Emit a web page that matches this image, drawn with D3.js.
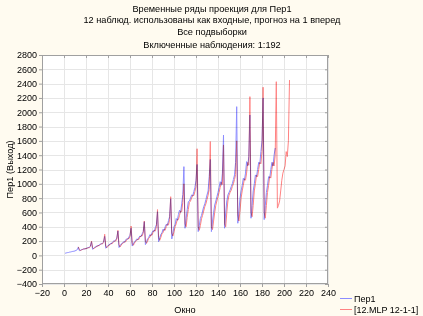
<!DOCTYPE html>
<html>
<head>
<meta charset="utf-8">
<script src="https://cdn.jsdelivr.net/npm/d3@7"></script>
<style>
  html, body { margin: 0; padding: 0; background: #fffbf0; }
  svg { display: block; }
  text { font-family: "Liberation Sans", Arial, sans-serif; fill: #000; }
</style>
</head>
<body>
<svg id="chart" width="423" height="316"></svg>
<script>
const titleLines = [
  "Временные ряды проекция для Пер1",
  "12 наблюд. использованы как входные, прогноз на 1 вперед",
  "Все подвыборки",
  "Включенные наблюдения: 1:192"
];
const xLabel = "Окно";
const yLabel = "Пер1 (Выход)";
const seriesNames = ["Пер1", "[12.MLP 12-1-1]"];
const xTicks = [-20, 0, 20, 40, 60, 80, 100, 120, 140, 160, 180, 200, 220, 240];
const yTicks = [-400, -200, 0, 200, 400, 600, 800, 1000, 1200, 1400, 1600, 1800, 2000, 2200, 2400, 2600, 2800];

const observedStart = 1;
const observed = [
  30, 34, 38, 40, 45, 48, 52, 56, 58, 62, 70, 78,
  114, 65, 72, 80, 84, 92, 88, 98, 105, 102, 118, 130,
  190, 85, 100, 115, 120, 135, 130, 148, 160, 155, 175, 190,
  265, 100, 120, 140, 145, 165, 160, 185, 200, 195, 222, 240,
  340, 110, 135, 160, 168, 190, 182, 215, 232, 225, 258, 280,
  380, 130, 160, 190, 200, 228, 218, 250, 270, 262, 300, 330,
  470, 150, 192, 234, 248, 290, 276, 318, 346, 332, 388, 430,
  610, 190, 242, 295, 312, 365, 348, 400, 435, 418, 488, 540,
  790, 230, 315, 400, 430, 515, 490, 570, 630, 600, 720, 850,
  1240, 379, 520, 640, 750, 760, 800, 844, 830, 890, 950, 1050,
  1270, 332, 420, 518, 560, 620, 680, 720, 780, 844, 900, 1100,
  1340, 332, 480, 600, 705, 760, 820, 880, 950, 1030, 980, 1150,
  1682, 379, 600, 760, 844, 880, 914, 960, 1000, 1060, 1124, 1300,
  2078, 449, 620, 800, 900, 980, 1077, 1050, 1150, 1310, 1250, 1380,
  1962, 519, 700, 900, 1000, 1124, 1100, 1200, 1300, 1280, 1450, 1600,
  2200, 500, 700, 880, 980, 1100, 1080, 1200, 1300, 1250, 1400, 1500
];

const predictedStart = 13;
const predicted = [
  120, 80, 68, 76, 84, 88, 94, 92, 100, 108, 106, 122,
  200, 108, 92, 104, 118, 124, 138, 134, 150, 164, 160, 182,
  295, 130, 108, 126, 144, 150, 168, 165, 188, 204, 200, 228,
  350, 148, 118, 142, 166, 172, 192, 188, 218, 236, 232, 265,
  410, 170, 140, 168, 196, 206, 228, 222, 256, 275, 270, 310,
  480, 200, 168, 200, 240, 252, 290, 282, 322, 350, 340, 400,
  640, 250, 210, 250, 300, 318, 364, 352, 404, 440, 425, 500,
  820, 310, 270, 330, 400, 440, 500, 500, 560, 620, 610, 740,
  1000, 440, 400, 530, 640, 740, 760, 800, 840, 835, 890, 960,
  1490, 400, 350, 420, 510, 560, 620, 680, 720, 780, 840, 920,
  1590, 400, 360, 480, 600, 700, 760, 820, 880, 950, 1020, 990,
  1543, 440, 400, 600, 760, 840, 880, 910, 960, 1000, 1060, 1130,
  1600, 565, 480, 620, 800, 900, 980, 1070, 1050, 1150, 1300, 1260,
  2218, 600, 540, 700, 900, 1000, 1120, 1100, 1200, 1300, 1280, 1450,
  2350, 600, 520, 700, 880, 980, 1100, 1080, 1200, 1300, 1250, 1400,
  2427, 660, 700, 760, 900, 1050, 1150, 1200, 1250, 1450, 1380, 1600,
  2450
];

const svg = d3.select("#chart");
const W = 423, H = 316;
const m = { left: 42, right: 95, top: 55, bottom: 32 };
const pw = W - m.left - m.right;   // 286
const ph = H - m.top - m.bottom;   // 229

const x = d3.scaleLinear().domain([-20, 240]).range([m.left, m.left + pw]);
const y = d3.scaleLinear().domain([-400, 2800]).range([m.top + ph, m.top]);

svg.append("rect").attr("x", m.left).attr("y", m.top).attr("width", pw).attr("height", ph)
  .attr("fill", "#ffffff");

const grid = svg.append("g").attr("stroke", "#e6e6e6").attr("stroke-width", 1);
xTicks.forEach(t => grid.append("line")
  .attr("x1", Math.round(x(t)) + 0.5).attr("x2", Math.round(x(t)) + 0.5)
  .attr("y1", m.top).attr("y2", m.top + ph));
yTicks.forEach(t => grid.append("line")
  .attr("y1", Math.round(y(t)) + 0.5).attr("y2", Math.round(y(t)) + 0.5)
  .attr("x1", m.left).attr("x2", m.left + pw));

const fs = "9px";
const axB = svg.append("g").attr("transform", `translate(0,${m.top + ph})`)
  .call(d3.axisBottom(x).tickValues(xTicks).tickSize(3).tickPadding(3).tickFormat(d3.format("d")));
const axL = svg.append("g").attr("transform", `translate(${m.left},0)`)
  .call(d3.axisLeft(y).tickValues(yTicks).tickSize(3).tickPadding(2).tickFormat(d3.format("d")));
const axT = svg.append("g").attr("transform", `translate(0,${m.top})`)
  .call(d3.axisBottom(x).tickValues(xTicks).tickSize(3).tickFormat(""));
const axR = svg.append("g").attr("transform", `translate(${m.left + pw},0)`)
  .call(d3.axisLeft(y).tickValues(yTicks).tickSize(3).tickFormat(""));
[axB, axL, axT, axR].forEach(a => {
  a.select(".domain").remove();
  a.selectAll("line").attr("stroke", "#a0a0a0");
  a.selectAll("text").style("font-size", fs).style("font-family", "'Liberation Sans', Arial, sans-serif").attr("fill", "#000");
});

svg.append("rect").attr("x", m.left + 0.5).attr("y", m.top + 0.5).attr("width", pw - 1).attr("height", ph - 1)
  .attr("fill", "none").attr("stroke", "#a0a0a0");

const obsData = observed.map((v, i) => [observedStart + i, v]);
const predData = predicted.map((v, i) => [predictedStart + i, v]);
const line = d3.line().x(d => x(d[0])).y(d => y(d[1]));
const series = svg.append("g");
series.append("path").datum(obsData).attr("d", line)
  .attr("fill", "none").attr("stroke", "#8c8cff").attr("stroke-width", 1)
  .style("mix-blend-mode", "multiply");
series.append("path").datum(predData).attr("d", line)
  .attr("fill", "none").attr("stroke", "#ff8282").attr("stroke-width", 1)
  .style("mix-blend-mode", "multiply");

const tY = [11.5, 23, 34.5, 47.5];
titleLines.forEach((t, i) => svg.append("text").attr("x", 212).attr("y", tY[i])
  .attr("text-anchor", "middle").style("font-size", "9.2px").text(t));

svg.append("text").attr("x", x(110)).attr("y", 313).attr("text-anchor", "middle")
  .style("font-size", "9.2px").text(xLabel);
svg.append("text").attr("transform", `translate(13,${y(1200)}) rotate(-90)`).attr("text-anchor", "middle")
  .style("font-size", "9.2px").text(yLabel);

const legColors = ["#8c8cff", "#ff8282"];
seriesNames.forEach((n, i) => {
  const ly = 298 + i * 11;
  svg.append("line").attr("x1", 340).attr("x2", 352).attr("y1", ly + 0.5).attr("y2", ly + 0.5)
    .attr("stroke", legColors[i]).attr("stroke-width", 1);
  svg.append("text").attr("x", 354).attr("y", ly + 3.5).style("font-size", "9px").text(n);
});
</script>
</body>
</html>
